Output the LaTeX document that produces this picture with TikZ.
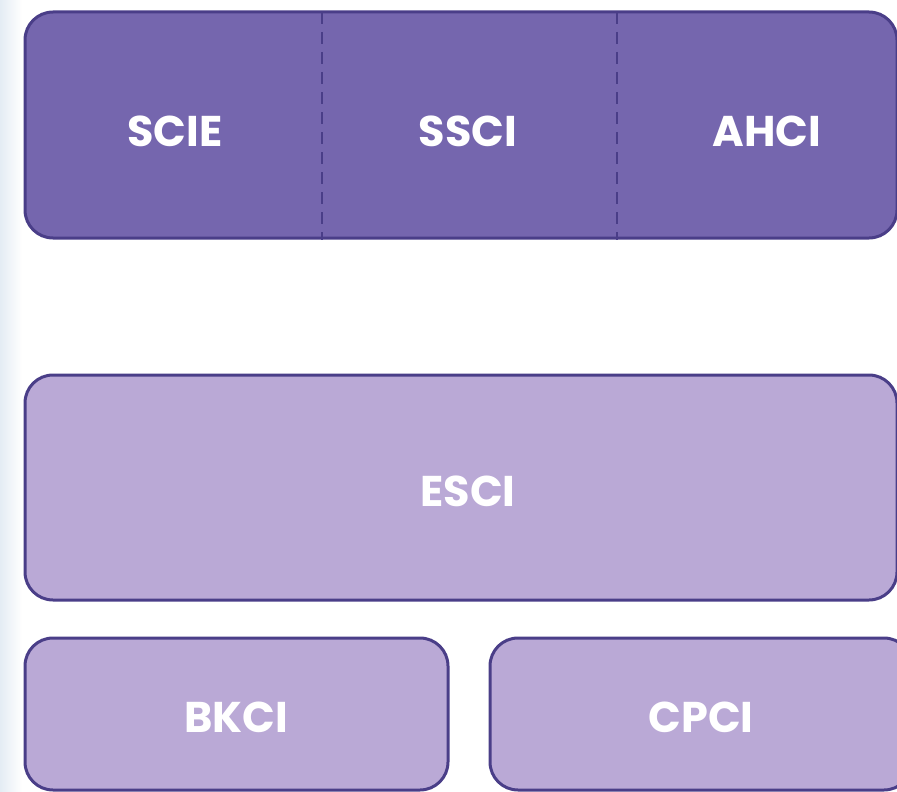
\documentclass[tikz,border=0pt]{standalone}
\usepackage{fontspec}
\setmainfont{Poppins}
\usetikzlibrary{positioning}

\definecolor{darkband}{HTML}{7566AE}
\definecolor{lightband}{HTML}{BAA9D6}
\definecolor{edgeline}{HTML}{4A3E88}
\definecolor{haze}{HTML}{E4ECF4}

\begin{document}
\begin{tikzpicture}[x=1pt,y=-1pt]
  \tikzstyle{box}=[draw=edgeline,line width=3pt,rounded corners=28pt,inner sep=0pt]
  \tikzstyle{upper}=[box,fill=darkband]
  \tikzstyle{lower}=[box,fill=lightband]
  \tikzstyle{label}=[text=white,font=\fontsize{43}{50}\selectfont\bfseries,inner sep=0pt]
  \tikzstyle{divider}=[draw=edgeline,line width=2.2pt,dash pattern=on 12pt off 8pt]

  \useasboundingbox (0,0) rectangle (897,792);
  \shade[left color=haze,right color=white] (0,0) rectangle (22,792);

  % top band with the three core indexes
  \node[upper,minimum width=872pt,minimum height=226pt] (core) at (461,125) {};
  \coordinate (cut1) at (322,12);
  \coordinate (cut2) at (617,12);
  \draw[divider] (cut1) -- (cut1 |- core.south);
  \draw[divider] (cut2) -- (cut2 |- core.south);
  \node[label] (scie) at (175,131) {SCIE};
  \node[label] (ssci) at (468,131) {SSCI};
  \node[label] (ahci) at (767,131) {AHCI};

  % emerging sources
  \node[lower,minimum width=872pt,minimum height=225pt] (esci) at (461,487.5) {};
  \node[label] at ([yshift=-4pt]esci.center -| ssci) {ESCI};

  % books and proceedings
  \node[lower,minimum width=423pt,minimum height=152pt] (bkci) at (236.5,714) {};
  \node[lower,minimum width=422pt,minimum height=152pt] (cpci) at (701,714) {};
  \node[label] at ([yshift=-3pt]bkci.center) {BKCI};
  \node[label] at ([yshift=-3pt]cpci.center) {CPCI};
\end{tikzpicture}
\end{document}
